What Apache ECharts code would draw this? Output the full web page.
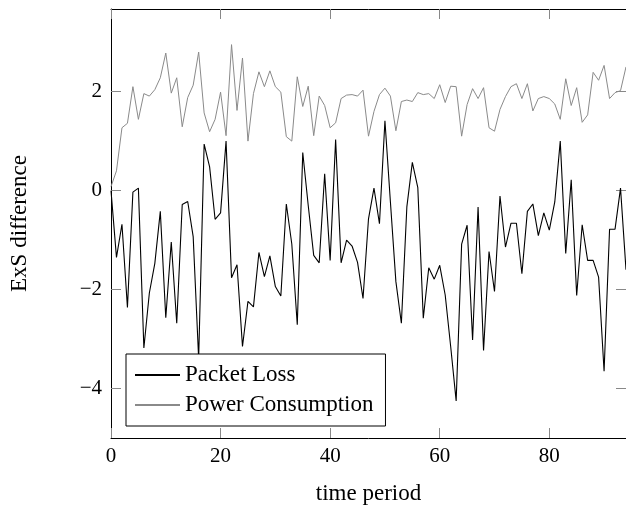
<!DOCTYPE html>
<html>
<head>
<meta charset="utf-8">
<script src="https://cdn.jsdelivr.net/npm/echarts@6/dist/echarts.min.js"></script>
<style>
html,body{margin:0;padding:0;background:#fff;}
#chart{width:626px;height:510px;}
</style>
</head>
<body>
<div id="chart"></div>
<script>
var xTicks = [0, 20, 40, 60, 80];
var yTicks = [-4, -2, 0, 2];
var packetLoss = [
  0.0, -1.35, -0.68, -2.36, -0.03, 0.05, -3.18, -2.07, -1.47, -0.42,
  -2.57, -1.04, -2.68, -0.28, -0.22, -0.93, -3.4, 0.94, 0.48, -0.58,
  -0.45, 1.0, -1.76, -1.5, -3.15, -2.24, -2.35, -1.25, -1.74, -1.32,
  -1.94, -2.13, -0.27, -1.08, -2.71, 0.77, -0.3, -1.31, -1.46, 0.34,
  -1.41, 1.03, -1.46, -1.0, -1.12, -1.45, -2.18, -0.57, 0.05, -0.67,
  1.41, -0.23, -1.84, -2.68, -0.33, 0.57, 0.06, -2.58, -1.56, -1.79,
  -1.51, -2.11, -3.15, -4.25, -1.08, -0.7, -3.02, -0.33, -3.23, -1.23,
  -2.04, -0.11, -1.14, -0.66, -0.66, -1.68, -0.42, -0.27, -0.91, -0.45,
  -0.8, -0.23, 1.0, -1.27, 0.22, -2.12, -0.69, -1.41, -1.41, -1.75,
  -3.65, -0.78, -0.78, 0.05, -1.6
];
var powerConsumption = [
  0.08, 0.4, 1.27, 1.36, 2.1, 1.44, 1.96, 1.91, 2.04, 2.28,
  2.78, 1.97, 2.28, 1.29, 1.88, 2.13, 2.8, 1.57, 1.19, 1.44,
  1.99, 1.11, 2.95, 1.62, 2.68, 1.0, 1.96, 2.4, 2.1, 2.42,
  2.1, 1.99, 1.09, 1.0, 2.3, 1.7, 2.11, 1.11, 1.91, 1.72,
  1.27, 1.37, 1.86, 1.93, 1.94, 1.91, 2.03, 1.1, 1.6, 1.94,
  2.07, 1.91, 1.21, 1.8, 1.83, 1.8, 1.98, 1.94, 1.96, 1.86,
  2.14, 1.78, 2.11, 2.1, 1.1, 1.74, 2.06, 1.86, 2.08, 1.27,
  1.2, 1.64, 1.9, 2.1, 2.16, 1.86, 2.16, 1.61, 1.86, 1.9,
  1.86, 1.75, 1.44, 2.26, 1.72, 2.08, 1.38, 1.53, 2.39, 2.23,
  2.53, 1.86, 1.98, 2.02, 2.5
];
var seriesNames = ['Packet Loss', 'Power Consumption'];

var FONT = 'Liberation Serif';
function fmt(v){ return (v < 0 ? '\u2212' + Math.abs(v) : String(v)); }
function pairs(arr){ return arr.map(function(v, i){ return [i, v]; }); }

var tickStyle = {show: true, inside: true, length: 10, lineStyle: {color: '#888', width: 1}};
var lineStyleAxis = {show: true, onZero: false, lineStyle: {color: '#000', width: 1}};

var chart = echarts.init(document.getElementById('chart'), null, {renderer: 'canvas'});
chart.setOption({
  animation: false,
  backgroundColor: '#fff',
  grid: {left: 111, top: 9, right: -2, bottom: 70, containLabel: false},
  legend: {
    orient: 'vertical',
    left: 126, top: 354,
    backgroundColor: '#fff',
    borderColor: '#000', borderWidth: 1,
    padding: [8, 12, 8, 9],
    itemGap: 4,
    itemWidth: 45, itemHeight: 2,
    icon: 'rect',
    textStyle: {fontFamily: FONT, fontSize: 23, color: '#000', lineHeight: 26},
    data: seriesNames
  },
  xAxis: [
    {type: 'value', position: 'bottom', min: 0, max: 94,
     axisLine: lineStyleAxis,
     axisTick: Object.assign({customValues: xTicks}, tickStyle),
     axisLabel: {customValues: xTicks, fontFamily: FONT, fontSize: 21, color: '#000', margin: 8, formatter: fmt},
     splitLine: {show: false},
     name: 'time period', nameLocation: 'middle', nameGap: 44,
     nameTextStyle: {fontFamily: FONT, fontSize: 23, color: '#000'}},
    {type: 'value', position: 'top', min: 0, max: 94,
     axisLine: lineStyleAxis,
     axisTick: Object.assign({customValues: xTicks}, tickStyle),
     axisLabel: {show: false},
     splitLine: {show: false}}
  ],
  yAxis: [
    {type: 'value', position: 'left', min: -5, max: 3.67,
     axisLine: lineStyleAxis,
     axisTick: Object.assign({customValues: yTicks}, tickStyle),
     axisLabel: {customValues: yTicks, fontFamily: FONT, fontSize: 21, color: '#000', margin: 9, formatter: fmt},
     splitLine: {show: false},
     name: 'ExS difference', nameLocation: 'middle', nameGap: 80,
     nameTextStyle: {fontFamily: FONT, fontSize: 23, color: '#000'}},
    {type: 'value', position: 'right', min: -5, max: 3.67,
     axisLine: lineStyleAxis,
     axisTick: Object.assign({customValues: yTicks}, tickStyle),
     axisLabel: {show: false},
     splitLine: {show: false}}
  ],
  series: [
    {name: seriesNames[0], type: 'line', xAxisIndex: 0, yAxisIndex: 0,
     data: pairs(packetLoss), symbol: 'none', clip: true,
     lineStyle: {color: '#000', width: 1.1}, itemStyle: {color: '#000'}, z: 3},
    {name: seriesNames[1], type: 'line', xAxisIndex: 0, yAxisIndex: 0,
     data: pairs(powerConsumption), symbol: 'none', clip: true,
     lineStyle: {color: '#8a8a8a', width: 1}, itemStyle: {color: '#8a8a8a'}, z: 2}
  ]
});
</script>
</body>
</html>
